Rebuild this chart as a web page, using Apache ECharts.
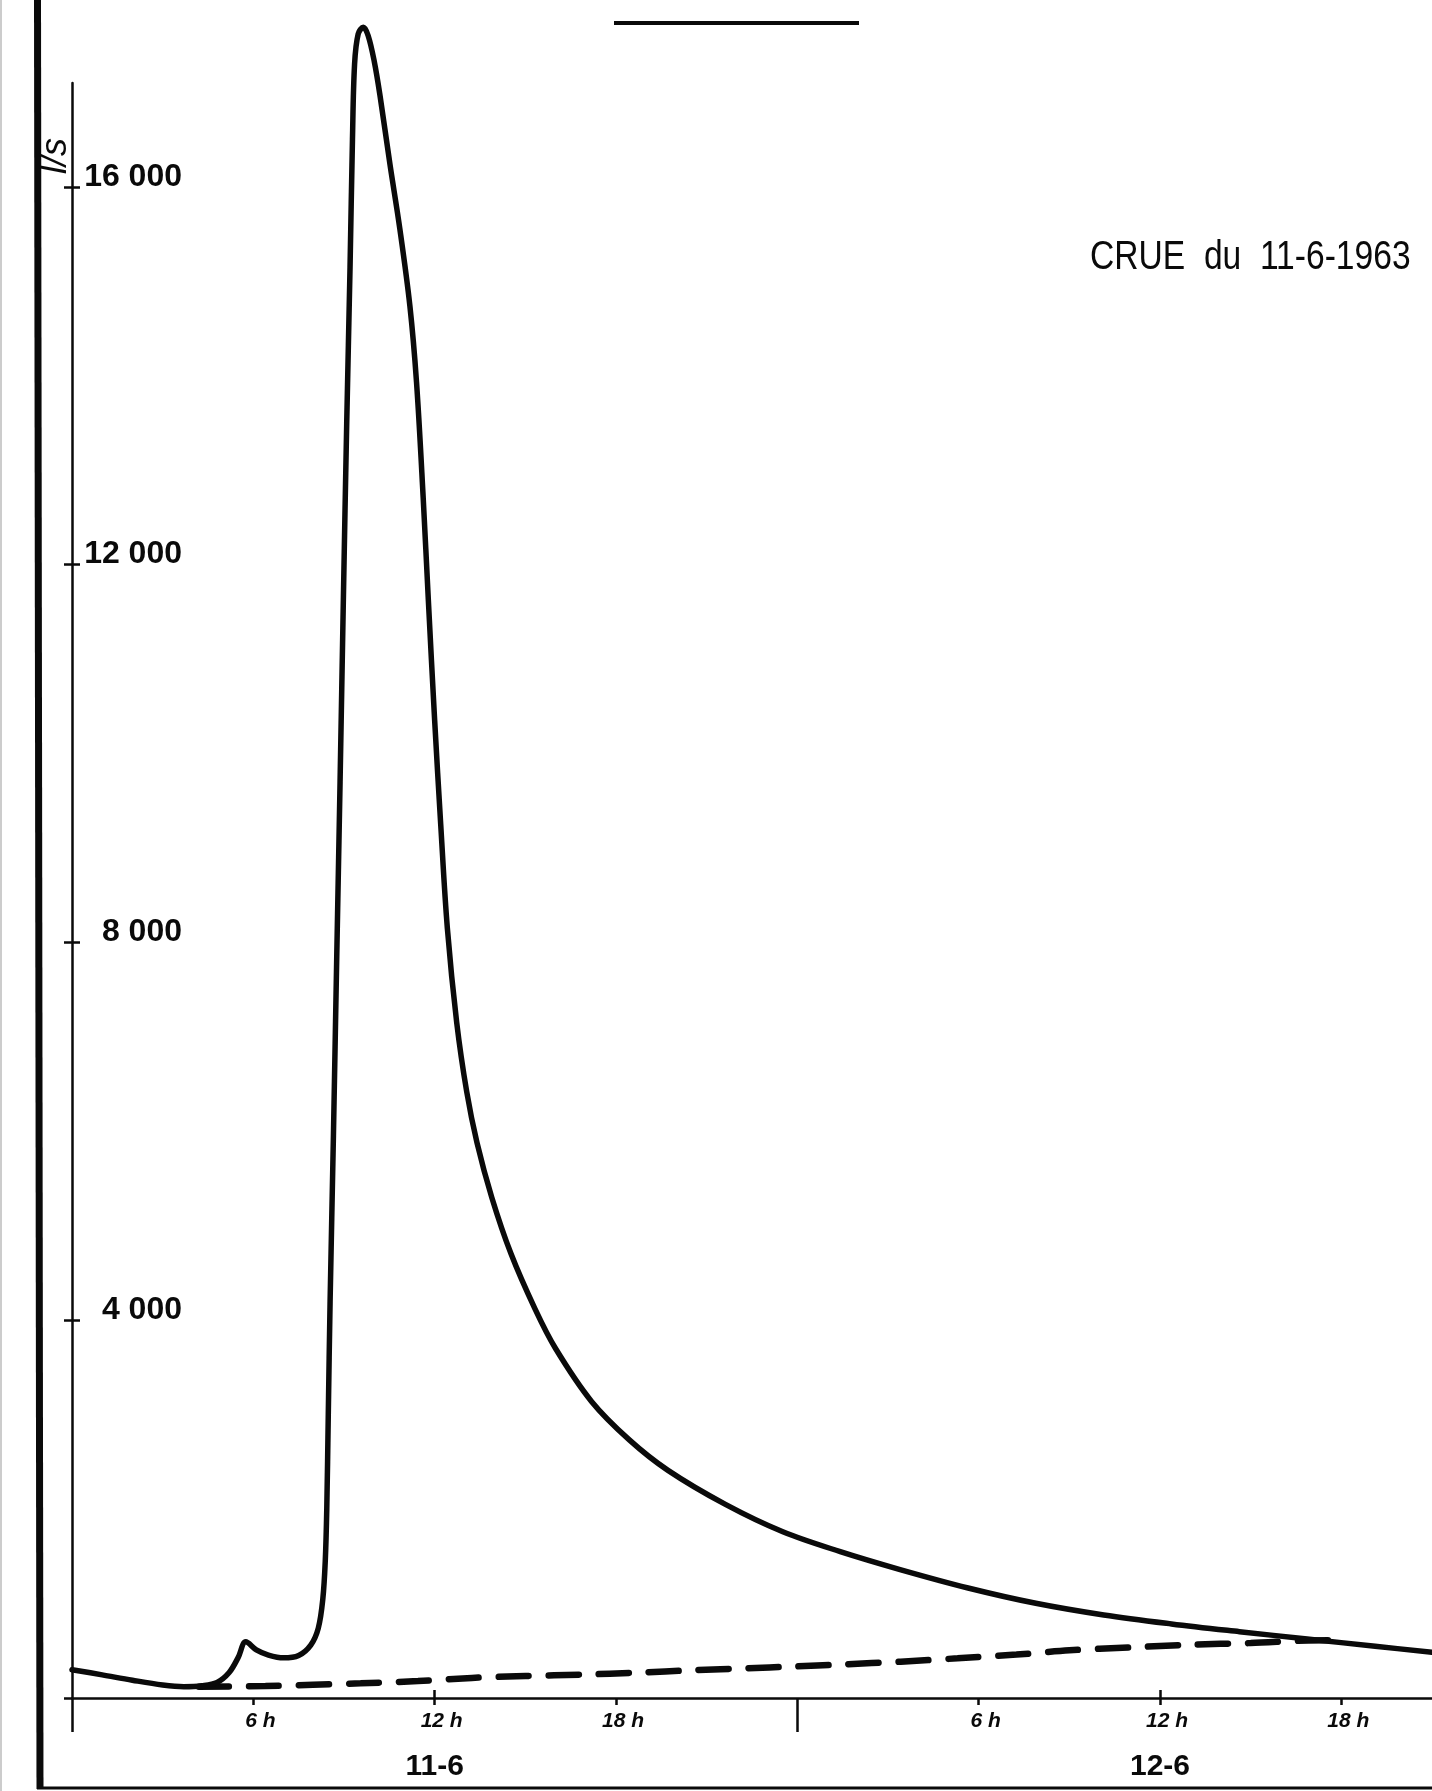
<!DOCTYPE html>
<html>
<head>
<meta charset="utf-8">
<title>CRUE du 11-6-1963</title>
<script src="https://cdn.jsdelivr.net/npm/echarts@6/dist/echarts.min.js"></script>
<style>
  html, body { margin: 0; padding: 0; background: #ffffff; }
  #chart { width: 1432px; height: 1791px; }
</style>
</head>
<body>
<div id="chart"></div>
<script>
// Flood hydrograph: discharge (l/s) against hours counted from 0 h on 11 June
const floodHours = [0, 1, 2, 3, 3.7, 4.3, 4.8, 5.2, 5.5, 5.75, 6.1, 6.5, 7.0, 7.5, 7.9, 8.15, 8.3, 8.38, 8.43,
  8.48, 8.54, 8.65, 8.76, 8.87, 8.98, 9.09, 9.2, 9.28, 9.35, 9.47, 9.64, 9.8, 10.0, 10.19, 10.52, 10.85,
  11.18, 11.4, 11.62, 11.79, 12.0, 12.2, 12.42, 12.73, 13.06, 13.4, 13.89, 14.53, 15.32, 16.0, 17.19, 18.45,
  19.72, 21.62, 23.52, 25.42, 27.4, 29.65, 31.89, 34.14, 36.38, 38.63, 40.87, 43.12, 45];
const floodFlow = [300, 245, 188, 138, 120, 130, 165, 270, 430, 595, 510, 455, 425, 450, 560, 740, 1050, 1450, 2000,
  3000, 4200, 5950, 7850, 9700, 11650, 13500, 15150, 16500, 17300, 17620, 17690, 17600, 17330, 16970, 16240, 15550,
  14740, 13930, 12710, 11630, 10350, 9250, 8150, 7150, 6420, 5880, 5300, 4700, 4120, 3700, 3140, 2730,
  2410, 2050, 1760, 1550, 1360, 1165, 1003, 879, 784, 702, 625, 548, 484];

// Base flow separation line (dashed)
const baseHours = [4.2, 6.4, 9.55, 11.45, 13.23, 15.0, 16.9, 18.68, 20.57, 22.35, 23.8, 25.5, 27.42, 29.3,
  31.25, 33.0, 35.0, 37.0, 39.0, 40.9, 41.6];
const baseFlow = [120, 127, 155, 180, 213, 233, 248, 268, 295, 315, 333, 355, 385, 420,
  460, 505, 535, 565, 582, 610, 612];

// Axis marks and texts
const flowTicks = [4000, 8000, 12000, 16000];
const hourTicks = [6, 12, 18, 30, 36, 42];
const noonTicks = [12, 36];
const dayBreaks = [0, 24];
const dayCenters = [12, 36];
const dayNames = ['11-6', '12-6'];
const titleText = 'CRUE  du  11-6-1963';
const unitText = 'l/s';

const INK = '#0a0a0a';
const FONT = '"Liberation Sans", Arial, sans-serif';

const chart = echarts.init(document.getElementById('chart'), null, { renderer: 'canvas', width: 1432, height: 1791 });

const zip = (xs, ys) => xs.map((x, i) => [x, ys[i]]);
const spaced = v => String(v).replace(/\B(?=(\d{3})+(?!\d))/g, ' ');

const hourAxisBase = { type: 'value', min: 0, max: 45, position: 'bottom', offset: 0, splitLine: { show: false } };
const flowAxisBase = { type: 'value', min: 0, max: 17100, position: 'left', offset: 0, splitLine: { show: false } };

const option = {
  animation: false,
  backgroundColor: '#ffffff',
  grid: { left: 72, right: 0, top: 83, bottom: 93, containLabel: false },
  xAxis: [
    Object.assign({}, hourAxisBase, {
      axisLine: { show: true, lineStyle: { color: INK, width: 2.5 } },
      axisTick: { show: true, customValues: hourTicks, length: 7, lineStyle: { color: INK, width: 2.5 } },
      axisLabel: {
        show: true, customValues: hourTicks, formatter: v => (v % 24) + ' h',
        fontFamily: FONT, fontStyle: 'italic', fontWeight: 'bold', fontSize: 21, color: INK,
        margin: 13, padding: [0, 0, 0, 14]
      }
    }),
    Object.assign({}, hourAxisBase, {
      axisLine: { show: false },
      axisTick: { show: true, customValues: dayBreaks, length: 34, lineStyle: { color: INK, width: 2.5 } },
      axisLabel: {
        show: true, customValues: dayCenters, formatter: v => dayNames[dayCenters.indexOf(v)],
        fontFamily: FONT, fontWeight: 'bold', fontSize: 30, color: INK, margin: 54
      }
    }),
    Object.assign({}, hourAxisBase, {
      axisLine: { show: false },
      axisTick: { show: true, inside: true, customValues: noonTicks, length: 8, lineStyle: { color: INK, width: 2.5 } },
      axisLabel: { show: false }
    })
  ],
  yAxis: [
    Object.assign({}, flowAxisBase, {
      axisLine: { show: true, lineStyle: { color: INK, width: 2.5 } },
      axisTick: { show: true, customValues: [0].concat(flowTicks), length: 8, lineStyle: { color: INK, width: 2.5 } },
      axisLabel: {
        show: true, inside: true, customValues: flowTicks, formatter: v => spaced(v),
        align: 'right', verticalAlign: 'bottom', lineHeight: 20, margin: 110,
        fontFamily: FONT, fontWeight: 'bold', fontSize: 32, color: INK
      }
    }),
    Object.assign({}, flowAxisBase, {
      axisLine: { show: false },
      axisTick: { show: true, inside: true, customValues: flowTicks, length: 8, lineStyle: { color: INK, width: 2.5 } },
      axisLabel: { show: false }
    })
  ],
  series: [
    {
      name: 'Débit',
      type: 'line',
      xAxisIndex: 0, yAxisIndex: 0,
      data: zip(floodHours, floodFlow),
      symbol: 'none',
      smooth: 0.35,
      clip: false,
      lineStyle: { color: INK, width: 5.5, cap: 'round', join: 'round' },
      z: 3
    },
    {
      name: 'Débit de base',
      type: 'line',
      xAxisIndex: 0, yAxisIndex: 0,
      data: zip(baseHours, baseFlow),
      symbol: 'none',
      smooth: 0.3,
      clip: false,
      lineStyle: { color: INK, width: 6.5, type: [30, 20], cap: 'round' },
      z: 2
    }
  ],
  graphic: [
    { type: 'rect', shape: { x: 0, y: 0, width: 2, height: 1791 }, style: { fill: '#cccccc' }, silent: true },
    { type: 'line', shape: { x1: 37.5, y1: 0, x2: 40, y2: 1789 }, style: { stroke: INK, lineWidth: 7 }, silent: true },
    { type: 'line', shape: { x1: 37, y1: 1788, x2: 1432, y2: 1788 }, style: { stroke: INK, lineWidth: 3 }, silent: true },
    { type: 'line', shape: { x1: 614, y1: 23, x2: 859, y2: 23 }, style: { stroke: INK, lineWidth: 4 }, silent: true },
    {
      type: 'text', x: 1090, y: 258, scaleX: 0.84, silent: true,
      style: { text: titleText, fontFamily: FONT, fontSize: 40, fill: INK, align: 'left', verticalAlign: 'middle' }
    },
    {
      type: 'text', x: 56, y: 156, rotation: Math.PI / 2, silent: true,
      style: { text: unitText, fontFamily: FONT, fontSize: 36, fontStyle: 'italic', fill: INK, align: 'center', verticalAlign: 'middle' }
    }
  ]
};

chart.setOption(option);
</script>
</body>
</html>
